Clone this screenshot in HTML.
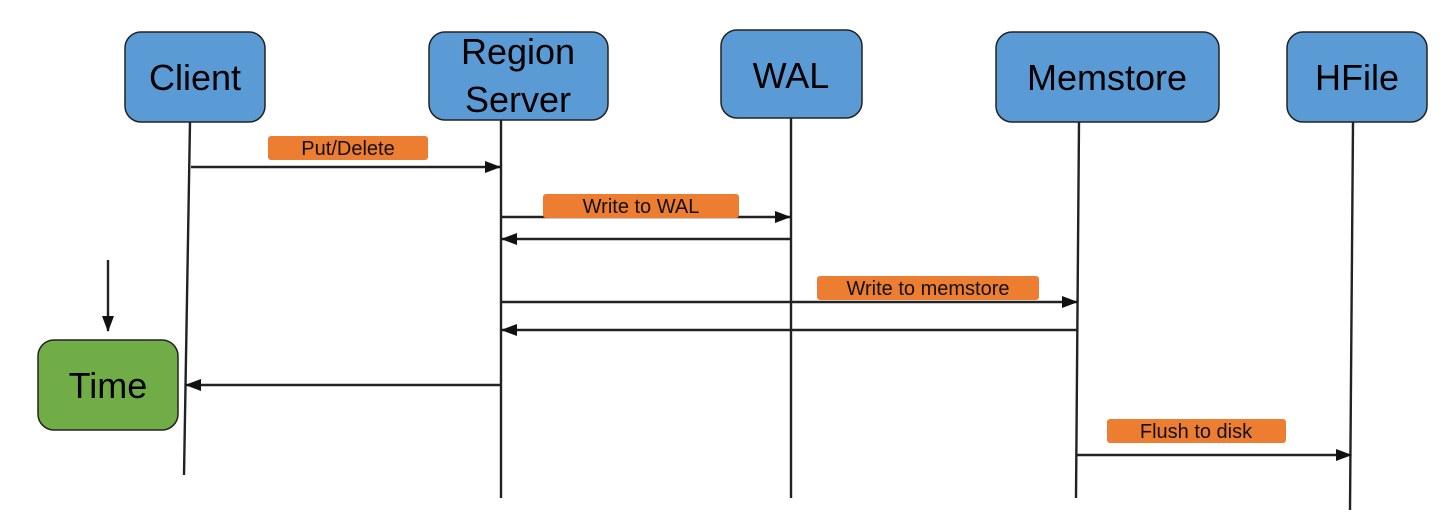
<!DOCTYPE html>
<html><head><meta charset="utf-8"><style>
html,body{margin:0;padding:0;background:#fff;}
svg{display:block;}
.b{font-family:"Liberation Sans Narrow","Liberation Sans","DejaVu Sans Condensed",sans-serif;font-size:36px;fill:#000;text-anchor:middle;}
.l{font-family:"Liberation Sans","DejaVu Sans",sans-serif;font-size:20px;fill:#111;text-anchor:middle;}
</style></head><body>
<svg width="1445" height="529" viewBox="0 0 1445 529" xmlns="http://www.w3.org/2000/svg">
<defs><marker id="a" markerWidth="16" markerHeight="12" refX="15" refY="6" orient="auto" markerUnits="userSpaceOnUse"><path d="M0,0 L16,6 L0,12 Z" fill="#111"/></marker></defs>
<g stroke="#222" stroke-width="2.4" fill="none">
<line x1="190" y1="122" x2="184" y2="475"/>
<line x1="501" y1="120" x2="501" y2="498"/>
<line x1="791" y1="118" x2="791" y2="498"/>
<line x1="1079" y1="122" x2="1076" y2="498"/>
<line x1="1353" y1="122" x2="1350" y2="510"/>
<line x1="191" y1="167" x2="500" y2="167" marker-end="url(#a)"/>
<line x1="502" y1="217" x2="790" y2="217" marker-end="url(#a)"/>
<line x1="790" y1="239" x2="502" y2="239" marker-end="url(#a)"/>
<line x1="502" y1="302" x2="1077" y2="302" marker-end="url(#a)"/>
<line x1="1077" y1="330" x2="502" y2="330" marker-end="url(#a)"/>
<line x1="500" y1="385" x2="186" y2="385" marker-end="url(#a)"/>
<line x1="1077" y1="455" x2="1351" y2="455" marker-end="url(#a)"/>
<line x1="108" y1="260" x2="108" y2="331" marker-end="url(#a)"/>
</g>
<g stroke="#222" stroke-width="1.5" fill="#5b9bd5">
<rect x="125" y="32" width="140" height="90" rx="16"/>
<rect x="429" y="32" width="179" height="88" rx="16"/>
<rect x="721" y="30" width="141" height="88" rx="16"/>
<rect x="996" y="32" width="223" height="90" rx="16"/>
<rect x="1287" y="32" width="140" height="90" rx="16"/>
<rect x="38" y="340" width="140" height="90" rx="16" fill="#70ad47"/>
</g>
<text class="b" x="195" y="90">Client</text>
<text class="b" x="518" y="64">Region</text>
<text class="b" x="518" y="112">Server</text>
<text class="b" x="791" y="88">WAL</text>
<text class="b" x="1107" y="90">Memstore</text>
<text class="b" x="1357" y="90">HFile</text>
<text class="b" x="108" y="398">Time</text>
<g fill="#ed7d31">
<rect x="268" y="136" width="160" height="24" rx="3"/>
<rect x="543" y="194" width="196" height="24" rx="3"/>
<rect x="817" y="276" width="222" height="24" rx="3"/>
<rect x="1107" y="419" width="179" height="24" rx="3"/>
</g>
<text class="l" x="348" y="155">Put/Delete</text>
<text class="l" x="641" y="213">Write to WAL</text>
<text class="l" x="928" y="295">Write to memstore</text>
<text class="l" x="1196" y="438">Flush to disk</text>
</svg>
</body></html>
